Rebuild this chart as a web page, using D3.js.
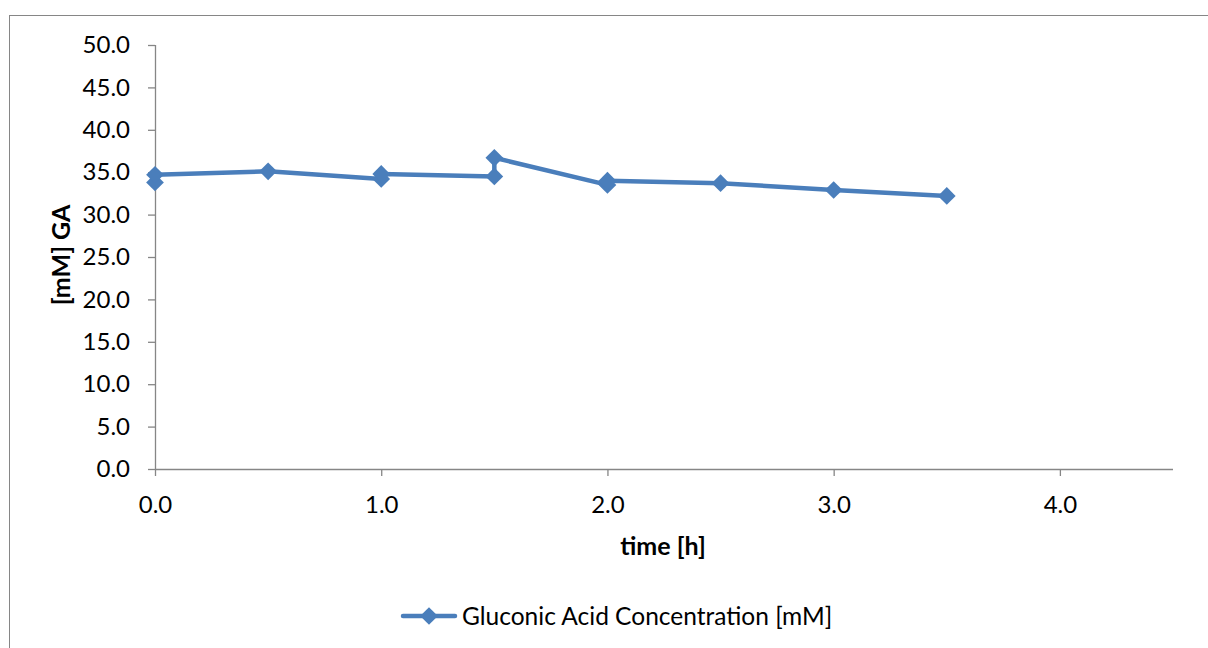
<!DOCTYPE html>
<html>
<head>
<meta charset="UTF-8">
<title>Gluconic Acid</title>
<script src="https://cdn.jsdelivr.net/npm/d3@7"></script>
<style>
    body { margin: 0; background: #fff; }
    text { font-family: Lato, "Open Sans", sans-serif; fill: #000; }
    .axis path, .axis line { stroke: #868686; stroke-width: 1.3px; }
</style>
</head>
<body>
<svg width="1208" height="648"></svg>
<script>
    // time [h] and concentration [mM] in the order the line visits them
    var timeH = [0, 0, 0.5, 1, 1, 1.5, 1.5, 2, 2, 2.5, 3, 3.5];
    var gaMM = [33.8, 34.7, 35.1, 34.2, 34.8, 34.5, 36.7, 33.5, 34.0, 33.7, 32.9, 32.2];
    var xTicks = [0, 1, 2, 3, 4];
    var yTicks = [0, 5, 10, 15, 20, 25, 30, 35, 40, 45, 50];
    var seriesName = "Gluconic Acid Concentration [mM]";

    var svg = d3.select("svg");
    var blue = "#4a7ebb";

    svg.append("rect")
        .attr("x", 9.5).attr("y", 15.5)
        .attr("width", 1208).attr("height", 700)
        .attr("fill", "none").attr("stroke", "#868686");

    var x = d3.scaleLinear().domain([0, 4.5]).range([155, 1173]);
    var y = d3.scaleLinear().domain([0, 50]).range([469, 45]);

    var fmt = d3.format(".1f");

    var yAxis = svg.append("g")
        .attr("class", "axis")
        .attr("transform", "translate(155,0)")
        .call(d3.axisLeft(y).tickValues(yTicks).tickFormat(fmt).tickSize(7).tickPadding(18));
    yAxis.selectAll("text").style("font-size", "24px");

    var xAxis = svg.append("g")
        .attr("class", "axis")
        .attr("transform", "translate(0,469)")
        .call(d3.axisBottom(x).tickValues(xTicks).tickFormat(fmt).tickSize(7).tickPadding(20));
    xAxis.selectAll("text").style("font-size", "24px");
    xAxis.select(".domain").attr("d", "M155,0.5H1173");
    yAxis.select(".domain").attr("d", "M0.5,45V469");

    svg.append("text")
        .attr("x", 663).attr("y", 555)
        .attr("text-anchor", "middle")
        .style("font-size", "25px").style("font-weight", "bold")
        .text("time [h]");

    svg.append("text")
        .attr("transform", "translate(70,255) rotate(-90)")
        .attr("text-anchor", "middle")
        .style("font-size", "25px").style("font-weight", "bold")
        .text("[mM] GA");

    var pts = timeH.map(function (t, i) { return [t, gaMM[i]]; });

    svg.append("path")
        .datum(pts)
        .attr("fill", "none")
        .attr("stroke", blue)
        .attr("stroke-width", 4.5)
        .attr("stroke-linejoin", "round")
        .attr("d", d3.line()
            .x(function (d) { return x(d[0]); })
            .y(function (d) { return y(d[1]); }));

    var diamond = d3.symbol().type(d3.symbolDiamond2).size(200);

    svg.append("g")
        .selectAll("path")
        .data(pts)
        .enter().append("path")
        .attr("d", diamond)
        .attr("fill", blue)
        .attr("transform", function (d) { return "translate(" + x(d[0]) + "," + y(d[1]) + ")"; });

    // legend
    var lg = svg.append("g").attr("transform", "translate(0,616)");
    lg.append("line")
        .attr("x1", 403).attr("x2", 455)
        .attr("stroke", blue).attr("stroke-width", 4.5).attr("stroke-linecap", "round");
    lg.append("path")
        .attr("d", diamond)
        .attr("fill", blue)
        .attr("transform", "translate(429,0)");
    lg.append("text")
        .attr("x", 462).attr("dy", "0.35em")
        .style("font-size", "24.5px")
        .text(seriesName);
</script>
</body>
</html>
